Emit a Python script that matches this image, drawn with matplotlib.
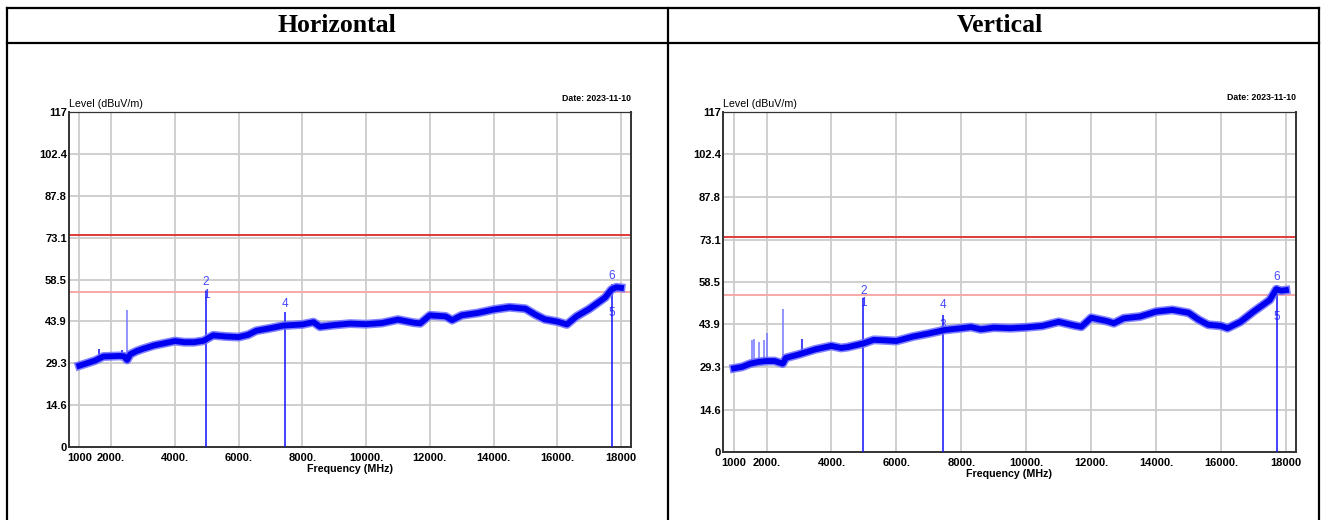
import numpy as np
import matplotlib
matplotlib.use("Agg")
import matplotlib.pyplot as plt
from matplotlib.lines import Line2D

plt.rcParams['font.family'] = ['Liberation Sans', 'DejaVu Sans']

# ---- data ----
panel_titles = ["Horizontal", "Vertical"]
date_text = "Date: 2023-11-10"

y_ticks = [0, 14.6, 29.3, 43.9, 58.5, 73.1, 87.8, 102.4, 117]
y_tick_labels = ["0", "14.6", "29.3", "43.9", "58.5", "73.1", "87.8", "102.4", "117"]
x_ticks = [1000, 2000, 4000, 6000, 8000, 10000, 12000, 14000, 16000, 18000]
x_tick_labels = ["1000", "2000.", "4000.", "6000.", "8000.", "10000.",
                 "12000.", "14000.", "16000.", "18000"]

limit_peak = 74
limit_avg = 54

h_freq = [1000, 1250, 1500, 1750, 2000, 2250, 2400, 2500, 2600, 2800, 3000, 3350,
          3700, 4000, 4300, 4600, 4900, 5200, 5600, 6000, 6300, 6550, 7000, 7400,
          8000, 8350, 8550, 9000, 9500, 10000, 10500, 11000, 11500, 11700, 12000,
          12500, 12700, 13000, 13500, 14000, 14500, 15000, 15300, 15600, 16000,
          16300, 16600, 17000, 17500, 17700, 17850, 18000]
h_level = [28.4, 29.3, 30.2, 31.6, 31.7, 31.8, 31.7, 30.4, 32.4, 33.5, 34.3, 35.5,
           36.3, 37.0, 36.6, 36.6, 37.1, 39.0, 38.6, 38.4, 39.2, 40.6, 41.5, 42.4,
           42.8, 43.6, 42.0, 42.6, 43.1, 42.9, 43.3, 44.5, 43.4, 43.2, 46.0,
           45.6, 44.3, 46.0, 46.8, 48.0, 48.8, 48.3, 46.3, 44.6, 43.8,
           42.8, 45.6, 48.2, 52.2, 55.0, 55.8, 55.6]
h_spike_freq = [1620, 2330, 2490]
h_spike_top = [34.4, 33.8, 47.7]
h_spike_light = [False, False, True]
h_mark_freq = [4980, 7440, 17710]
h_mark_top = [54.5, 47.2, 57.0]
h_label_text = ["2", "1", "4", "6", "5"]
h_label_freq = [4980, 4980, 7440, 17710, 17710]
h_label_level = [57.5, 53.0, 49.8, 59.6, 46.7]

v_freq = [1000, 1250, 1500, 1750, 2000, 2250, 2500, 2600, 3000, 3500, 4000, 4300,
          4500, 5000, 5300, 5500, 6000, 6500, 7000, 7500, 8000, 8300, 8600, 9000,
          9500, 10000, 10500, 11000, 11500, 11700, 12000, 12500, 12700, 13000, 13500,
          14000, 14500, 15000, 15300, 15600, 16000, 16200, 16600, 17000, 17500,
          17700, 17850, 18000]
v_level = [28.8, 29.3, 30.4, 31.0, 31.3, 31.3, 30.4, 32.4, 33.6, 35.3, 36.5, 35.8,
           36.1, 37.4, 38.6, 38.5, 38.2, 39.7, 40.8, 42.0, 42.6, 43.0, 42.2, 42.8,
           42.6, 42.9, 43.4, 44.8, 43.5, 43.1, 46.2, 45.0, 44.3, 46.0, 46.6,
           48.3, 48.9, 47.9, 45.6, 43.8, 43.4, 42.6, 44.8, 48.3, 52.3,
           56.0, 55.5, 55.7]
v_spike_freq = [1540, 1620, 1770, 1920, 2010, 2494, 3080]
v_spike_top = [38.5, 38.8, 37.9, 38.5, 40.8, 49.1, 39.0]
v_spike_light = [True, True, True, True, True, True, False]
v_mark_freq = [4980, 7440, 17710]
v_mark_top = [52.9, 47.3, 57.5]
v_label_text = ["2", "1", "4", "3", "6", "5"]
v_label_freq = [4980, 4980, 7440, 7440, 17710, 17710]
v_label_level = [55.5, 51.2, 50.6, 43.6, 60.3, 46.5]

W, H = 1321, 520
fig = plt.figure(figsize=(W / 100, H / 100), dpi=100)
fig.patch.set_facecolor("white")

# ---- table borders (pixel coords -> figure fraction) ----
def fx(px):
    return px / W

def fy(py):
    return 1 - py / H

table_lines = [
    ((7, 7), (8, 520)), ((668, 668), (8, 520)), ((1319, 1319), (8, 520)),
    ((7, 1319), (8, 8)), ((7, 1319), (43, 43)),
]
for xs, ys in table_lines:
    fig.add_artist(Line2D([fx(xs[0]), fx(xs[1])], [fy(ys[0]), fy(ys[1])],
                          color="black", lw=1.6))

fig.text(fx(337), fy(26), panel_titles[0], ha="center", va="center",
         family="Liberation Serif", weight="bold", fontsize=18.5)
fig.text(fx(1000), fy(26), panel_titles[1], ha="center", va="center",
         family="Liberation Serif", weight="bold", fontsize=18.5)


def draw_panel(box, freq, level, spk_f, spk_t, spk_light, mk_f, mk_top,
               lb_t, lb_f, lb_l, xlim):
    ax = fig.add_axes(box)
    ax.set_xlim(*xlim)
    ax.set_ylim(0, 117)
    ax.set_xticks(x_ticks)
    ax.set_xticklabels(x_tick_labels, fontsize=8, weight="bold")
    ax.set_yticks(y_ticks)
    ax.set_yticklabels(y_tick_labels, fontsize=8, weight="bold")
    ax.tick_params(length=0, pad=1.5, axis="y")
    ax.tick_params(length=0, pad=4, axis="x")
    ax.grid(True, color="#cccccc", lw=1.3)
    ax.set_axisbelow(True)
    for side in ["left", "bottom", "right"]:
        ax.spines[side].set_color("#333333")
        ax.spines[side].set_linewidth(1.4)
    ax.spines["top"].set_color("#333333")
    ax.spines["top"].set_linewidth(0.9)

    ax.axhline(limit_peak, color="#e03a3a", lw=1.4, zorder=2)
    ax.axhline(limit_avg, color="#f7a8a8", lw=1.4, zorder=2)

    # marker numbers (the ones below the trace get partly hidden)
    for t, f, l in zip(lb_t, lb_f, lb_l):
        ax.text(f, l, t, ha="center", va="center", fontsize=8.5,
                color="#4747ff", zorder=3)

    ax.vlines(mk_f, 0, mk_top, color="#1010ff", lw=1.1, zorder=4)
    base = np.interp(spk_f, freq, level)
    for f, b, t, light in zip(spk_f, base, spk_t, spk_light):
        ax.vlines(f, b, t, color="#7777ff" if light else "#1010ff",
                  lw=1.1, zorder=4)

    ax.plot(freq, level, color="#6c6cff", lw=6.4, zorder=4, alpha=0.85,
            solid_joinstyle="round")
    ax.plot(freq, level, color="#0000f0", lw=4.2, zorder=5,
            solid_joinstyle="round")

    ax.text(0, 1.01, "Level (dBuV/m)", transform=ax.transAxes, ha="left",
            va="bottom", fontsize=7.7)
    ax.text(1.0, 1.028, date_text, transform=ax.transAxes, ha="right",
            va="bottom", fontsize=6.3, weight="bold")
    ax.set_xlabel("Frequency (MHz)", fontsize=7.7, weight="bold", labelpad=1)
    return ax


draw_panel([fx(69), fy(447), fx(631) - fx(69), fy(112) - fy(447)],
           h_freq, h_level, h_spike_freq, h_spike_top, h_spike_light,
           h_mark_freq, h_mark_top, h_label_text, h_label_freq, h_label_level,
           (677, 18313))
draw_panel([fx(723), fy(452), fx(1296) - fx(723), fy(112) - fy(452)],
           v_freq, v_level, v_spike_freq, v_spike_top, v_spike_light,
           v_mark_freq, v_mark_top, v_label_text, v_label_freq, v_label_level,
           (660, 18309))

fig.savefig("out.png", dpi=100, facecolor="white")
